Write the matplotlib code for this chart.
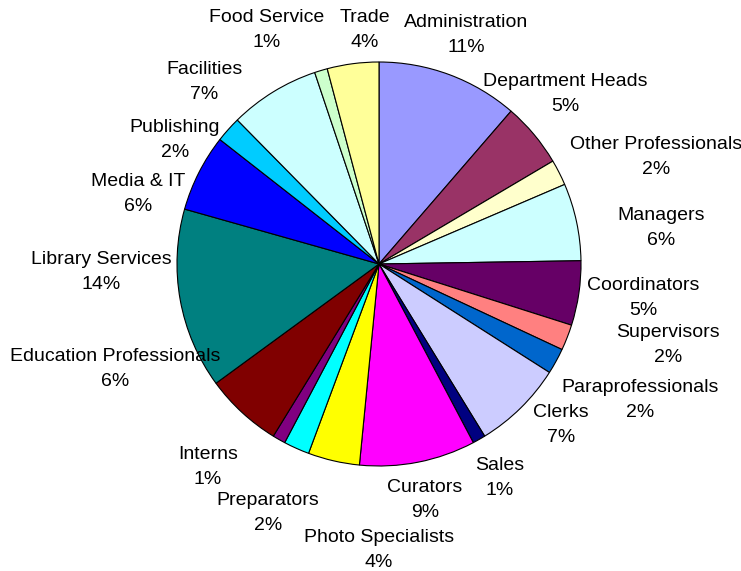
import matplotlib.pyplot as plt

plt.rcParams['font.family'] = ['Liberation Sans', 'DejaVu Sans']

# Staff categories, clockwise from 12 o'clock
categories = ['Administration', 'Department Heads', 'Other Professionals', 'Managers',
              'Coordinators', 'Supervisors', 'Paraprofessionals', 'Clerks', 'Sales',
              'Curators', 'Photo Specialists', 'Preparators', 'Interns',
              'Education Professionals', 'Library Services', 'Media & IT', 'Publishing',
              'Facilities', 'Food Service', 'Trade']
shares = [11, 5, 2, 6, 5, 2, 2, 7, 1, 9, 4, 2, 1, 6, 14, 6, 2, 7, 1, 4]
colors = ['#9999FF', '#993366', '#FFFFCC', '#CCFFFF', '#660066', '#FF8080', '#0066CC',
          '#CCCCFF', '#000080', '#FF00FF', '#FFFF00', '#00FFFF', '#800080', '#800000',
          '#008080', '#0000FF', '#00CCFF', '#CCFFFF', '#CCFFCC', '#FFFF99']

# label block centres in pixels (x from left, y from top)
label_px = [(466, 35), (565, 94), (656, 157), (661, 228), (643, 298), (668, 345),
            (640, 400), (561, 425), (500, 478), (425, 500), (379, 550), (268, 513),
            (208, 467), (115, 369), (101, 272), (138, 194), (175, 140), (204, 82),
            (267, 30), (365, 30)]
line_gap = 25  # px between name line and percent line

W, H = 741, 571
cx, cy, r = 379, 264, 202

fig = plt.figure(figsize=(W / 100, H / 100), dpi=100)
ax = fig.add_axes([(cx - r) / W, 1 - (cy + r) / H, 2 * r / W, 2 * r / H])
ax.pie(shares, colors=colors, startangle=90, counterclock=False,
       wedgeprops=dict(edgecolor='black', linewidth=0.8))
ax.set_xlim(-1, 1)
ax.set_ylim(-1, 1)
ax.set_aspect('equal')

for name, val, (px, py) in zip(categories, shares, label_px):
    fig.text(px / W, 1 - (py - line_gap / 2) / H, name, ha='center', va='center',
             fontsize=14, color='black')
    fig.text(px / W, 1 - (py + line_gap / 2) / H, f'{val}%', ha='center', va='center',
             fontsize=14, color='black')

fig.savefig('out.png', dpi=100)
